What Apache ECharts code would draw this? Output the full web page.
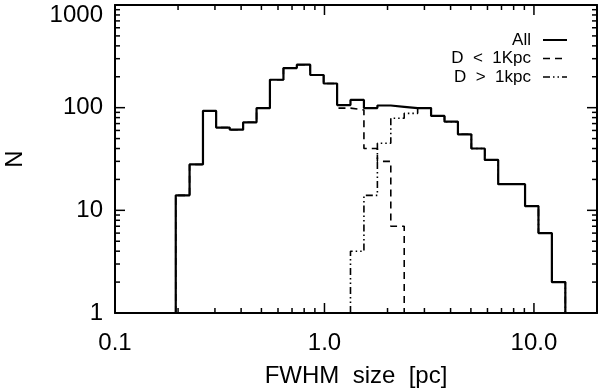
<!DOCTYPE html>
<html>
<head>
<meta charset="utf-8">
<script src="https://cdn.jsdelivr.net/npm/echarts@6/dist/echarts.min.js"></script>
<style>
  html, body { margin: 0; padding: 0; background: #fff; }
  #chart { width: 600px; height: 388px; }
</style>
</head>
<body>
<div id="chart"></div>
<script>
// histogram bin edges, FWHM size [pc]
const binEdges = [0.195, 0.227, 0.263, 0.304, 0.353, 0.409, 0.474, 0.549, 0.637, 0.738,
  0.855, 0.991, 1.149, 1.331, 1.543, 1.789, 2.073, 2.403, 2.785, 3.228,
  3.741, 4.336, 5.026, 5.825, 6.751, 7.825, 9.070, 10.51, 12.18, 14.12];
// counts per bin (0 = empty bin)
const countsAll = [14, 28, 93, 64, 61, 72, 99, 187, 243, 262,
  208, 172, 106, 119, 99, 105, 102, 99, 99, 83,
  73, 55, 40, 31, 18, 18, 11, 6, 2];
const countsNear = [14, 28, 93, 64, 61, 72, 99, 187, 243, 262,
  208, 172, 99, 95, 40, 30, 7, 0, 0, 0,
  0, 0, 0, 0, 0, 0, 0, 0, 0];
const countsFar = [0, 0, 0, 0, 0, 0, 0, 0, 0, 0,
  0, 0, 0, 4, 14, 45, 79, 88, 99, 83,
  73, 55, 40, 31, 18, 18, 11, 6, 2];

const seriesNames = ['All', 'D  <  1Kpc', 'D  >  1kpc'];
const xLabelTicks = [0.1, 1, 10];
const xMajorTicks = [1, 10];
const xMinorTicks = [0.2, 0.3, 0.4, 0.5, 0.6, 0.7, 0.8, 0.9, 2, 3, 4, 5, 6, 7, 8, 9];
const yLabelTicks = [1, 10, 100, 1000];
const yMajorTicks = [10, 100];
const yMinorTicks = [2, 3, 4, 5, 6, 7, 8, 9, 20, 30, 40, 50, 60, 70, 80, 90,
  200, 300, 400, 500, 600, 700, 800, 900];

var font = 'Liberation Sans, Helvetica, Arial, sans-serif';
var X_MIN = 0.1, X_MAX = 20, Y_MIN = 1, Y_MAX = 1000;

// bin counts -> points of a step line, dropping to the baseline at both ends
function stepPoints(counts) {
  var first = counts.findIndex(function (v) { return v > 0; });
  var last = counts.length - 1;
  while (counts[last] === 0) last--;
  var pts = [[binEdges[first], Y_MIN]];
  for (var i = first; i <= last; i++) pts.push([binEdges[i], counts[i]]);
  pts.push([binEdges[last + 1], Y_MIN]);
  return pts;
}

function frameAxis(kind, pos, main) {
  var ax = {
    type: 'log', position: pos,
    min: kind === 'x' ? X_MIN : Y_MIN,
    max: kind === 'x' ? X_MAX : Y_MAX,
    splitLine: { show: false },
    axisLine: { show: true, onZero: false, lineStyle: { color: '#000', width: 2 } },
    axisTick: { show: false },
    minorTick: { show: false },
    axisLabel: { show: false }
  };
  return ax;
}

var xAxes = [frameAxis('x', 'bottom'), frameAxis('x', 'top')];
xAxes[0].axisLabel = {
  show: true, customValues: xLabelTicks, margin: 18,
  color: '#000', fontFamily: font, fontSize: 24,
  formatter: function (v) { return Number(v).toFixed(1); }
};
xAxes[0].name = 'FWHM  size  [pc]';
xAxes[0].nameLocation = 'middle';
xAxes[0].nameGap = 51;
xAxes[0].nameTextStyle = { color: '#000', fontFamily: font, fontSize: 24 };

var yAxes = [frameAxis('y', 'left'), frameAxis('y', 'right')];
yAxes[0].axisLabel = {
  show: true, customValues: yLabelTicks, margin: 12,
  color: '#000', fontFamily: font, fontSize: 24,
  formatter: function (v) {
    var s = String(Math.round(v));
    return v >= Y_MAX ? '{top|' + s + '}' : s;
  },
  rich: { top: { fontFamily: font, fontSize: 24, color: '#000', padding: [20, 0, 0, 0] } }
};
yAxes[0].name = 'N';
yAxes[0].nameLocation = 'middle';
yAxes[0].nameGap = 88;
yAxes[0].nameTextStyle = { color: '#000', fontFamily: font, fontSize: 24 };

var legendDash = [null, [7, 5], [7, 3, 1.5, 3, 1.5, 3]];

var chart = echarts.init(document.getElementById('chart'));
chart.setOption({
  animation: false,
  backgroundColor: '#fff',
  grid: { left: 115, right: 3, top: 5, bottom: 75, containLabel: false, outerBoundsMode: 'none' },
  xAxis: xAxes,
  yAxis: yAxes,
  series: [
    {
      name: seriesNames[1], type: 'line', step: 'end', symbol: 'none',
      data: stepPoints(countsNear),
      lineStyle: { color: '#000', width: 1.6, type: legendDash[1] }
    },
    {
      name: seriesNames[2], type: 'line', step: 'end', symbol: 'none',
      data: stepPoints(countsFar),
      lineStyle: { color: '#000', width: 1.6, type: legendDash[2] }
    },
    {
      name: seriesNames[0], type: 'line', step: 'end', symbol: 'none',
      data: stepPoints(countsAll),
      lineStyle: { color: '#000', width: 2.2, type: 'solid' }
    }
  ]
});

// tick marks on all four sides, placed through the axes' scales
var finder = { xAxisIndex: 0, yAxisIndex: 0 };
function tickLine(x1, y1, x2, y2) {
  return { type: 'line', z: 10, silent: true, shape: { x1: x1, y1: y1, x2: x2, y2: y2 },
    style: { stroke: '#000', lineWidth: 1.5 } };
}
var graphics = [];
function addXTicks(values, len) {
  values.forEach(function (v) {
    var b = chart.convertToPixel(finder, [v, Y_MIN]);
    var t = chart.convertToPixel(finder, [v, Y_MAX]);
    graphics.push(tickLine(b[0], b[1], b[0], b[1] - len));
    graphics.push(tickLine(t[0], t[1], t[0], t[1] + len));
  });
}
function addYTicks(values, len) {
  values.forEach(function (v) {
    var l = chart.convertToPixel(finder, [X_MIN, v]);
    var r = chart.convertToPixel(finder, [X_MAX, v]);
    graphics.push(tickLine(l[0], l[1], l[0] + len, l[1]));
    graphics.push(tickLine(r[0], r[1], r[0] - len, r[1]));
  });
}
addXTicks(xMajorTicks, 10);
addXTicks(xMinorTicks, 5);
addYTicks(yMajorTicks, 10);
addYTicks(yMinorTicks, 5);

// legend drawn by hand: text right aligned, line sample on the right
seriesNames.forEach(function (name, i) {
  var y = 40 + i * 18.5;
  graphics.push({
    type: 'text', z: 10, silent: true, x: 531, y: y,
    style: { text: name, fill: '#000', font: '17px ' + font, align: 'right', verticalAlign: 'middle' }
  });
  graphics.push({
    type: 'line', z: 10, silent: true, shape: { x1: 543, y1: y, x2: 567, y2: y },
    style: { stroke: '#000', lineWidth: i === 0 ? 2 : 1.6, lineDash: legendDash[i] }
  });
});

chart.setOption({ graphic: graphics });
</script>
</body>
</html>
